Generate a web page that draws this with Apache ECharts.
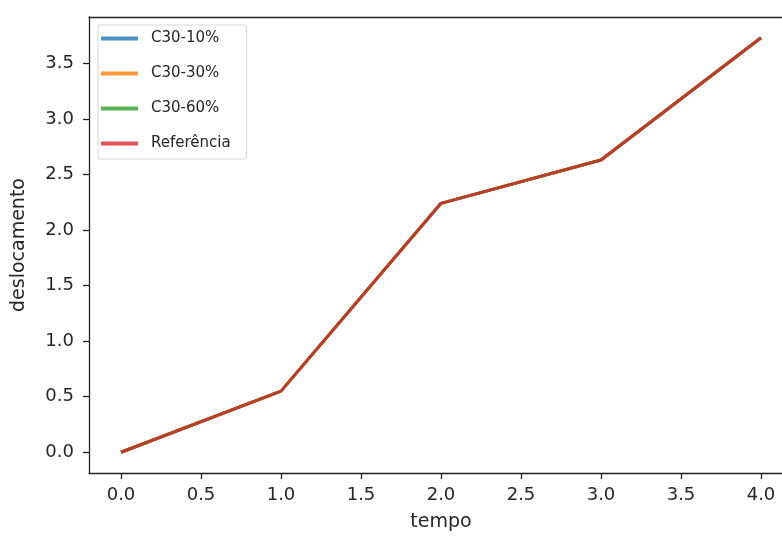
<!DOCTYPE html>
<html>
<head>
<meta charset="utf-8">
<script src="https://cdn.jsdelivr.net/npm/echarts@6/dist/echarts.min.js"></script>
<style>
  html, body { margin: 0; padding: 0; background: #fff; }
  #chart { width: 782px; height: 537px; }
</style>
</head>
<body>
<div id="chart"></div>
<script>
// dados
var tempo = [0, 1, 2, 3, 4];
var c30_10 = [0, 0.55, 2.24, 2.63, 3.73];
var c30_30 = [0, 0.55, 2.24, 2.63, 3.73];
var c30_60 = [0, 0.55, 2.24, 2.63, 3.73];
var referencia = [0, 0.55, 2.24, 2.63, 3.73];
var nomes = ["C30-10%", "C30-30%", "C30-60%", "Referência"];
var cores = ["#1f77b4", "#ff7f0e", "#2ca02c", "#d62728"];
var xTicks = [0, 0.5, 1, 1.5, 2, 2.5, 3, 3.5, 4];
var yTicks = [0, 0.5, 1, 1.5, 2, 2.5, 3, 3.5];

var chart = echarts.init(document.getElementById("chart"));

function pares(ys) {
    var out = [];
    for (var i = 0; i < tempo.length; i++) {
        out.push([tempo[i], ys[i]]);
    }
    return out;
}

var valores = [c30_10, c30_30, c30_60, referencia];
var series = [];
for (var i = 0; i < nomes.length; i++) {
    series.push({
        name: nomes[i],
        type: "line",
        data: pares(valores[i]),
        showSymbol: false,
        symbol: "none",
        animation: false,
        lineStyle: { color: cores[i], width: 3, opacity: 0.8 },
        itemStyle: { color: cores[i], opacity: 0.8 }
    });
}

var font = "DejaVu Sans";
var spine = { color: "#222", width: 1.3 };
var option = {
    animation: false,
    grid: {
        left: 89, top: 17, right: -11, bottom: 64,
        show: false,
        containLabel: false,
        outerBoundsMode: "none"
    },
    legend: {
        orient: "vertical",
        left: 98, top: 25,
        data: nomes,
        icon: "rect",
        itemWidth: 37, itemHeight: 4,
        itemGap: 20,
        padding: [6, 16, 8, 3],
        borderColor: "#d8d8d8", borderWidth: 1, borderRadius: 3,
        backgroundColor: "#fff",
        textStyle: { fontFamily: font, fontSize: 15, color: "#262626", padding: [0, 0, 0, 8] }
    },
    xAxis: [{
        type: "value",
        min: -0.2, max: 4.2,
        name: "tempo",
        nameLocation: "middle",
        nameGap: 40,
        nameTextStyle: { fontFamily: font, fontSize: 19, color: "#262626" },
        splitLine: { show: false },
        axisLine: { show: true, onZero: false, lineStyle: spine },
        axisTick: { show: true, customValues: xTicks, length: 6, lineStyle: spine },
        axisLabel: {
            customValues: xTicks, margin: 13,
            fontFamily: font, fontSize: 18, color: "#262626",
            formatter: function (v) { return v.toFixed(1); }
        }
    }, {
        // linha de cima da caixa
        type: "value",
        position: "top",
        min: -0.2, max: 4.2,
        splitLine: { show: false },
        axisLine: { show: true, onZero: false, lineStyle: spine },
        axisTick: { show: false },
        axisLabel: { show: false }
    }],
    yAxis: {
        type: "value",
        min: -0.1865, max: 3.9165,
        name: "deslocamento",
        nameLocation: "middle",
        nameGap: 60,
        nameTextStyle: { fontFamily: font, fontSize: 19, color: "#262626" },
        splitLine: { show: false },
        axisLine: { show: true, onZero: false, lineStyle: spine },
        axisTick: { show: true, customValues: yTicks, length: 6, lineStyle: spine },
        axisLabel: {
            customValues: yTicks, margin: 15,
            fontFamily: font, fontSize: 18, color: "#262626",
            formatter: function (v) { return v.toFixed(1); }
        }
    },
    series: series
};
chart.setOption(option);
</script>
</body>
</html>
